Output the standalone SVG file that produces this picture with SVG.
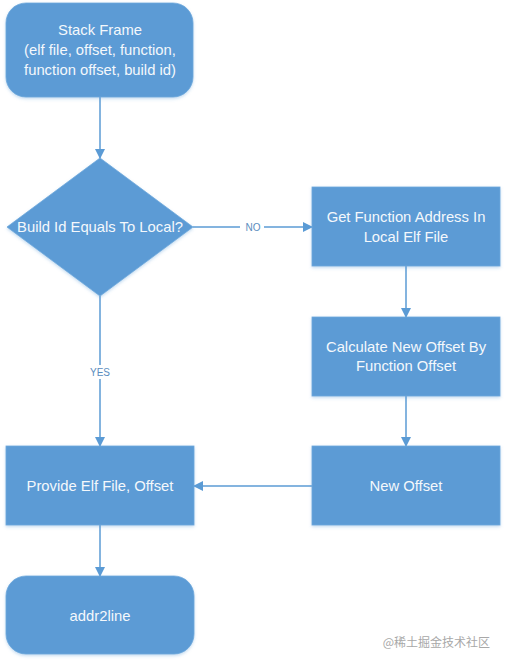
<svg xmlns="http://www.w3.org/2000/svg" width="507" height="665" viewBox="0 0 507 665">
<defs>
<marker id="ah" markerWidth="10" markerHeight="10" refX="9" refY="5" orient="auto" markerUnits="userSpaceOnUse">
<path d="M0,0 L10,5 L0,10 Z" fill="#5B9BD5"/>
</marker>
<filter id="sh" x="-10%" y="-10%" width="120%" height="130%">
<feDropShadow dx="0" dy="1.5" stdDeviation="1.5" flood-color="#5B9BD5" flood-opacity="0.35"/>
</filter>
</defs>
<style>
.n{fill:#5B9BD5;stroke:#6FA8DC;stroke-width:0.8;filter:url(#sh)}
.t{font-family:"Liberation Sans",Arial,sans-serif;font-size:14.8px;fill:#F4F8FC;text-anchor:middle}
.c{fill:none;stroke:#5B9BD5;stroke-width:1.5;marker-end:url(#ah)}
.l{font-family:"Liberation Sans",Arial,sans-serif;font-size:10px;fill:#5B8DBE;text-anchor:middle}
</style>
<rect width="507" height="665" fill="#FFFFFF"/>
<g id="connectors">
<path class="c" d="M100,97 L100,158"/>
<path class="c" d="M193,227 L312,227"/>
<path class="c" d="M406,266 L406,317"/>
<path class="c" d="M406,396 L406,446"/>
<path class="c" d="M100,296 L100,446"/>
<path class="c" d="M312,486 L194,486"/>
<path class="c" d="M100,525 L100,576"/>
<rect x="240" y="220" width="24" height="14" fill="#FFFFFF"/>
<text class="l" x="253" y="231">NO</text>
<rect x="86" y="365" width="28" height="14" fill="#FFFFFF"/>
<text class="l" x="100" y="376">YES</text>
</g>
<g id="stack-frame">
<rect class="n" x="6" y="3" width="187" height="94" rx="20" ry="20"/>
<text class="t" x="100" y="35">Stack Frame</text>
<text class="t" x="100" y="55">(elf file, offset, function,</text>
<text class="t" x="100" y="75">function offset, build id)</text>
</g>
<g id="build-id-check">
<polygon class="n" points="100,158 193,227 100,296 7,227"/>
<text class="t" x="100" y="232">Build Id Equals To Local?</text>
</g>
<g id="get-function-address">
<rect class="n" x="312" y="187" width="188" height="79"/>
<text class="t" x="406" y="222">Get Function Address In</text>
<text class="t" x="406" y="242">Local Elf File</text>
</g>
<g id="calculate-offset">
<rect class="n" x="312" y="317" width="188" height="79"/>
<text class="t" x="406" y="352">Calculate New Offset By</text>
<text class="t" x="406" y="371">Function Offset</text>
</g>
<g id="new-offset">
<rect class="n" x="312" y="446" width="188" height="79"/>
<text class="t" x="406" y="491">New Offset</text>
</g>
<g id="provide-elf">
<rect class="n" x="6" y="446" width="188" height="79"/>
<text class="t" x="100" y="491">Provide Elf File, Offset</text>
</g>
<g id="addr2line">
<rect class="n" x="6" y="576" width="188" height="78" rx="20" ry="20"/>
<text class="t" x="100" y="621">addr2line</text>
</g>
<text x="490" y="647" font-family="'Noto Sans CJK SC',sans-serif" font-size="12" fill="#A8A8A8" text-anchor="end">@稀土掘金技术社区</text>
</svg>
